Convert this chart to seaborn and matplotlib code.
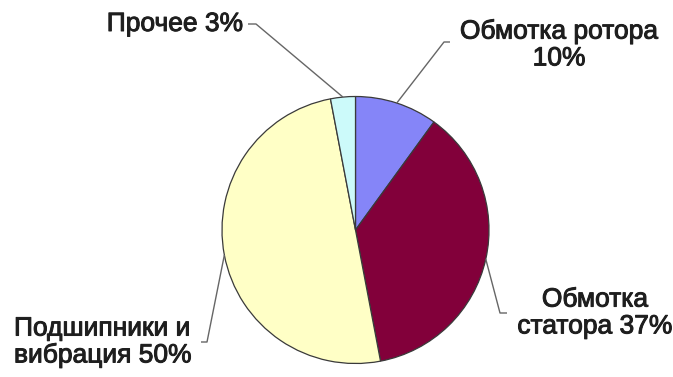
import numpy as np
import matplotlib
matplotlib.use("Agg")
import matplotlib.pyplot as plt
import matplotlib.patheffects as pe
import seaborn as sns

# Failure causes of induction motors, share in percent
categories = ["Обмотка ротора", "Обмотка статора", "Подшипники и вибрация", "Прочее"]
shares = [10, 37, 50, 3]
label_texts = ["Обмотка ротора\n10%", "Обмотка\nстатора 37%", "Подшипники и\nвибрация 50%", "Прочее 3%"]
colors = ["#8585F8", "#82003A", "#FFFFC6", "#CCFAFA"]

sns.set_theme(style="white")
plt.rcParams["font.family"] = ["Liberation Sans", "DejaVu Sans"]

W, H = 673, 377
fig = plt.figure(figsize=(W / 100, H / 100), dpi=100)
ax = fig.add_axes([0, 0, 1, 1])

cx, cy, r = 355.5, H - 230, 133.5
start = 90
wedges, _ = ax.pie(shares, colors=colors, startangle=start, counterclock=False,
                   center=(cx, cy), radius=r, frame=True,
                   wedgeprops=dict(edgecolor="#3a3a3a", linewidth=0.9))
ax.set_xlim(0, W)
ax.set_ylim(0, H)
ax.axis("off")

# label placement: text anchor, alignment, elbow and tail of leader line
layout = {
    0: dict(xy=(559, H - 45), ha="center", elbow=(444, H - 42), tail=(450, H - 42)),
    1: dict(xy=(595, H - 313), ha="center", elbow=(500, H - 313), tail=(507, H - 313)),
    2: dict(xy=(14, H - 342), ha="left", elbow=(207, H - 342), tail=(201, H - 342)),
    3: dict(xy=(243, H - 24), ha="right", elbow=(256, H - 24), tail=(248, H - 24)),
}

heavy = [pe.withStroke(linewidth=0.7, foreground="#1e1e1e")]
for i, w in enumerate(wedges):
    mid = np.deg2rad((w.theta1 + w.theta2) / 2)
    ex, ey = cx + r * np.cos(mid), cy + r * np.sin(mid)
    L = layout[i]
    ax.plot([ex, L["elbow"][0], L["tail"][0]], [ey, L["elbow"][1], L["tail"][1]],
            color="#666666", lw=1.0, solid_capstyle="butt")
    ax.text(L["xy"][0], L["xy"][1], label_texts[i], ha=L["ha"], va="center",
            multialignment="center" if L["ha"] == "center" else "left",
            fontsize=19, color="#1e1e1e", linespacing=1.15, path_effects=heavy)

fig.savefig("out.png", dpi=100)
